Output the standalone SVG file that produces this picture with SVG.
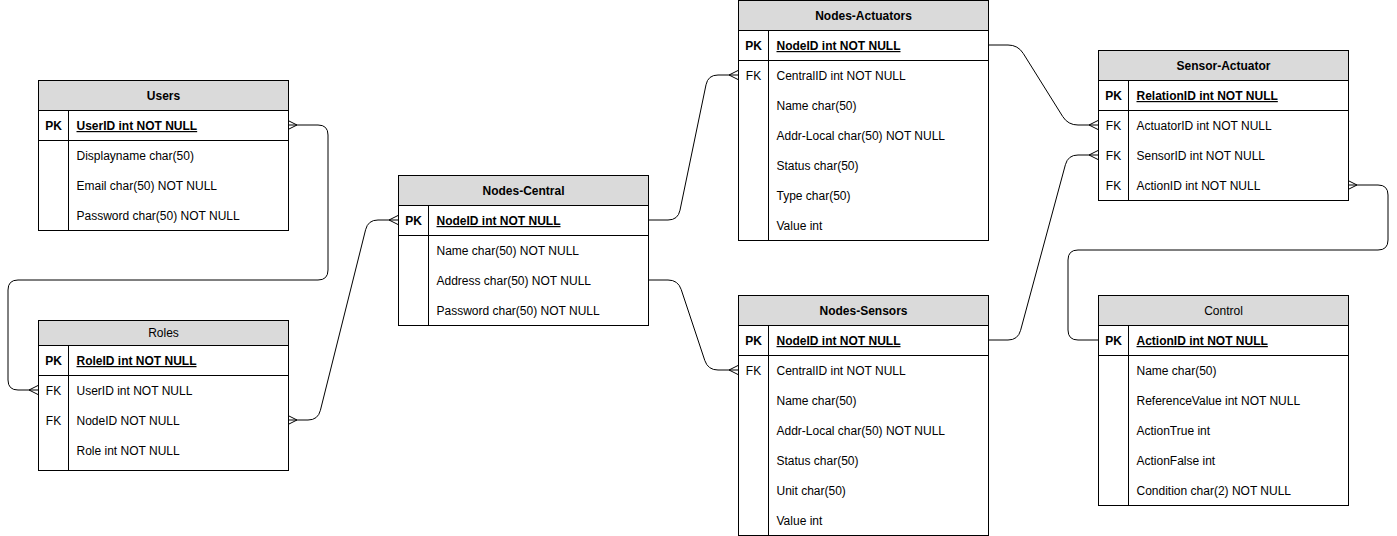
<svg xmlns="http://www.w3.org/2000/svg" width="1397" height="536" viewBox="0 0 1397 536">
<style>
.box{fill:#ffffff;stroke:#000000;stroke-width:1}
.hdr{fill:#dadada;stroke:#000000;stroke-width:1}
.ln{stroke:#000000;stroke-width:1;fill:none}
.t{font-family:"Liberation Sans",Arial,sans-serif;font-size:12px;fill:#000000}
.tt{font-family:"Liberation Sans",Arial,sans-serif;font-size:12px;fill:#000000;text-anchor:middle}
.b{font-weight:bold}
.u{text-decoration:underline}
.k{text-anchor:middle}
.edge{stroke:#000000;stroke-width:1;fill:none}
</style>
<rect x="0" y="0" width="1397" height="536" fill="#ffffff"/>

<g id="connectors">
<path class="edge" d="M288,125 H318 Q328,125 328,135 V270 Q328,280 318,280 H18 Q8,280 8,290 V380 Q8,390 18,390 H38"/>
<path class="edge" d="M288,420 H308 Q318,420 320.4,410.3 L365.6,229.7 Q368,220 378,220 H398"/>
<path class="edge" d="M648,220 H668 Q678,220 680,210.2 L706,84.8 Q708,75 718,75 H738"/>
<path class="edge" d="M648,280 H668 Q678,280 681.2,289.5 L704.8,360.5 Q708,370 718,370 H738"/>
<path class="edge" d="M988,45 H1008 Q1018,45 1023.3,53.5 L1062.7,116.5 Q1068,125 1078,125 H1098"/>
<path class="edge" d="M988,340 H1008 Q1018,340 1020.6,330.3 L1065.4,164.7 Q1068,155 1078,155 H1098"/>
<path class="edge" d="M1348,185 H1378 Q1388,185 1388,195 V240 Q1388,250 1378,250 H1078 Q1068,250 1068,260 V330 Q1068,340 1078,340 H1098"/>
<!-- crow's feet -->
<path class="edge" d="M288,120.5 L297,125 L288,129.5"/>
<path class="edge" d="M38,385.5 L29,390 L38,394.5"/>
<path class="edge" d="M288,415.5 L297,420 L288,424.5"/>
<path class="edge" d="M398,215.5 L389,220 L398,224.5"/>
<path class="edge" d="M738,70.5 L729,75 L738,79.5"/>
<path class="edge" d="M738,365.5 L729,370 L738,374.5"/>
<path class="edge" d="M1098,120.5 L1089,125 L1098,129.5"/>
<path class="edge" d="M1098,150.5 L1089,155 L1098,159.5"/>
<path class="edge" d="M1348,180.5 L1357,185 L1348,189.5"/>
</g>

<g id="users">
<rect class="box" x="38.5" y="80.5" width="250" height="150"/>
<rect class="hdr" x="38.5" y="80.5" width="250" height="30"/>
<line class="ln" x1="38.5" y1="140.5" x2="288.5" y2="140.5"/>
<line class="ln" x1="68.5" y1="110.5" x2="68.5" y2="230.5"/>
<text class="tt b" x="163.5" y="100">Users</text>
<text class="t b k" x="53.5" y="130">PK</text>
<text class="t b u" x="76.5" y="130">UserID int NOT NULL</text>
<text class="t" x="76.5" y="160">Displayname char(50)</text>
<text class="t" x="76.5" y="190">Email char(50) NOT NULL</text>
<text class="t" x="76.5" y="220">Password char(50) NOT NULL</text>
</g>

<g id="roles">
<rect class="box" x="38.5" y="320.5" width="250" height="150"/>
<rect class="hdr" x="38.5" y="320.5" width="250" height="25"/>
<line class="ln" x1="38.5" y1="375.5" x2="288.5" y2="375.5"/>
<line class="ln" x1="68.5" y1="345.5" x2="68.5" y2="470.5"/>
<text class="tt" x="163.5" y="337">Roles</text>
<text class="t b k" x="53.5" y="365">PK</text>
<text class="t b u" x="76.5" y="365">RoleID int NOT NULL</text>
<text class="t k" x="53.5" y="395">FK</text>
<text class="t" x="76.5" y="395">UserID int NOT NULL</text>
<text class="t k" x="53.5" y="425">FK</text>
<text class="t" x="76.5" y="425">NodeID NOT NULL</text>
<text class="t" x="76.5" y="455">Role int NOT NULL</text>
</g>

<g id="nodes-central">
<rect class="box" x="398.5" y="175.5" width="250" height="150"/>
<rect class="hdr" x="398.5" y="175.5" width="250" height="30"/>
<line class="ln" x1="398.5" y1="235.5" x2="648.5" y2="235.5"/>
<line class="ln" x1="428.5" y1="205.5" x2="428.5" y2="325.5"/>
<text class="tt b" x="523.5" y="195">Nodes-Central</text>
<text class="t b k" x="413.5" y="225">PK</text>
<text class="t b u" x="436.5" y="225">NodeID int NOT NULL</text>
<text class="t" x="436.5" y="255">Name char(50) NOT NULL</text>
<text class="t" x="436.5" y="285">Address char(50) NOT NULL</text>
<text class="t" x="436.5" y="315">Password char(50) NOT NULL</text>
</g>

<g id="nodes-actuators">
<rect class="box" x="738.5" y="0.5" width="250" height="240"/>
<rect class="hdr" x="738.5" y="0.5" width="250" height="30"/>
<line class="ln" x1="738.5" y1="60.5" x2="988.5" y2="60.5"/>
<line class="ln" x1="768.5" y1="30.5" x2="768.5" y2="240.5"/>
<text class="tt b" x="863.5" y="20">Nodes-Actuators</text>
<text class="t b k" x="753.5" y="50">PK</text>
<text class="t b u" x="776.5" y="50">NodeID int NOT NULL</text>
<text class="t k" x="753.5" y="80">FK</text>
<text class="t" x="776.5" y="80">CentralID int NOT NULL</text>
<text class="t" x="776.5" y="110">Name char(50)</text>
<text class="t" x="776.5" y="140">Addr-Local char(50) NOT NULL</text>
<text class="t" x="776.5" y="170">Status char(50)</text>
<text class="t" x="776.5" y="200">Type char(50)</text>
<text class="t" x="776.5" y="230">Value int</text>
</g>

<g id="nodes-sensors">
<rect class="box" x="738.5" y="295.5" width="250" height="240"/>
<rect class="hdr" x="738.5" y="295.5" width="250" height="30"/>
<line class="ln" x1="738.5" y1="355.5" x2="988.5" y2="355.5"/>
<line class="ln" x1="768.5" y1="325.5" x2="768.5" y2="535.5"/>
<text class="tt b" x="863.5" y="315">Nodes-Sensors</text>
<text class="t b k" x="753.5" y="345">PK</text>
<text class="t b u" x="776.5" y="345">NodeID int NOT NULL</text>
<text class="t k" x="753.5" y="375">FK</text>
<text class="t" x="776.5" y="375">CentralID int NOT NULL</text>
<text class="t" x="776.5" y="405">Name char(50)</text>
<text class="t" x="776.5" y="435">Addr-Local char(50) NOT NULL</text>
<text class="t" x="776.5" y="465">Status char(50)</text>
<text class="t" x="776.5" y="495">Unit char(50)</text>
<text class="t" x="776.5" y="525">Value int</text>
</g>

<g id="sensor-actuator">
<rect class="box" x="1098.5" y="50.5" width="250" height="150"/>
<rect class="hdr" x="1098.5" y="50.5" width="250" height="30"/>
<line class="ln" x1="1098.5" y1="110.5" x2="1348.5" y2="110.5"/>
<line class="ln" x1="1128.5" y1="80.5" x2="1128.5" y2="200.5"/>
<text class="tt b" x="1223.5" y="70">Sensor-Actuator</text>
<text class="t b k" x="1113.5" y="100">PK</text>
<text class="t b u" x="1136.5" y="100">RelationID int NOT NULL</text>
<text class="t k" x="1113.5" y="130">FK</text>
<text class="t" x="1136.5" y="130">ActuatorID int NOT NULL</text>
<text class="t k" x="1113.5" y="160">FK</text>
<text class="t" x="1136.5" y="160">SensorID int NOT NULL</text>
<text class="t k" x="1113.5" y="190">FK</text>
<text class="t" x="1136.5" y="190">ActionID int NOT NULL</text>
</g>

<g id="control">
<rect class="box" x="1098.5" y="295.5" width="250" height="210"/>
<rect class="hdr" x="1098.5" y="295.5" width="250" height="30"/>
<line class="ln" x1="1098.5" y1="355.5" x2="1348.5" y2="355.5"/>
<line class="ln" x1="1128.5" y1="325.5" x2="1128.5" y2="505.5"/>
<text class="tt" x="1223.5" y="315">Control</text>
<text class="t b k" x="1113.5" y="345">PK</text>
<text class="t b u" x="1136.5" y="345">ActionID int NOT NULL</text>
<text class="t" x="1136.5" y="375">Name char(50)</text>
<text class="t" x="1136.5" y="405">ReferenceValue int NOT NULL</text>
<text class="t" x="1136.5" y="435">ActionTrue int</text>
<text class="t" x="1136.5" y="465">ActionFalse int</text>
<text class="t" x="1136.5" y="495">Condition char(2) NOT NULL</text>
</g>
</svg>
